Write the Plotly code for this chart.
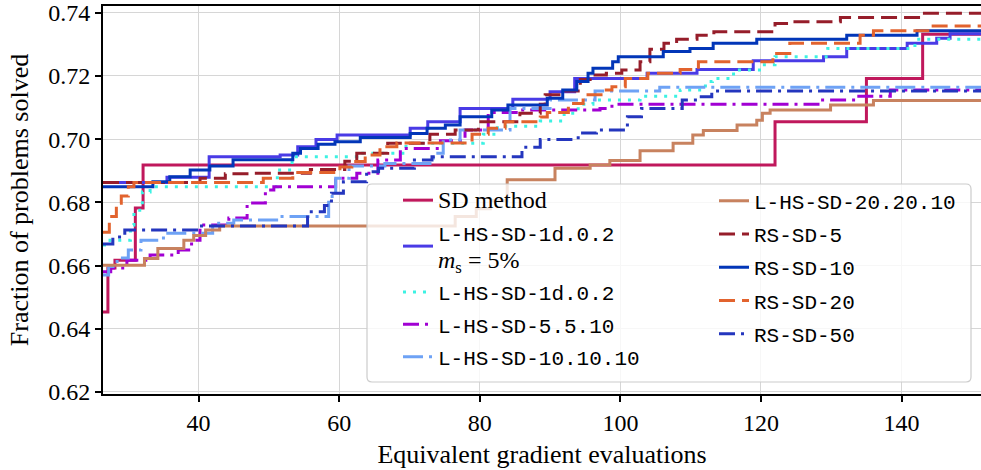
import plotly.graph_objects as go

X_END = 152.0

sd_x = [26.4, 27.1, 28.1, 31.0, 32.1, 122.0, 135.0, 143.0]
sd_y = [0.6453, 0.6592, 0.6617, 0.6782, 0.6918, 0.7055, 0.7192, 0.7332]

ms_x = [26.4, 35.5, 41.5, 51.6, 54.1, 56.7, 59.7, 70.1, 72.6, 77.2, 84.7, 90.0, 93.5,
        103.8, 110.9, 118.9, 128.9, 132.2, 140.8, 145.0, 146.9]
ms_y = [0.6863, 0.6879, 0.6944, 0.6950, 0.6976, 0.6999, 0.7013, 0.7034, 0.7055, 0.7097,
        0.7126, 0.7150, 0.7192, 0.7208, 0.7220, 0.7248, 0.7261, 0.7287, 0.7303, 0.7319, 0.7333]

cy_x = [26.4, 27.4, 30.3, 30.8, 32.0, 33.1, 51.2, 53.3, 62.5, 69.5, 80.5, 82.5, 88.6, 92.0,
        94.0, 96.1, 102.8, 108.5, 112.1, 113.1, 116.1, 120.2, 122.0, 129.5, 141.9]
cy_y = [0.6665, 0.6680, 0.6728, 0.6775, 0.6833, 0.6849, 0.6902, 0.6944, 0.6955, 0.6987,
        0.7015, 0.7041, 0.7057, 0.7082, 0.7110, 0.7124, 0.7136, 0.7155, 0.7182, 0.7192,
        0.7219, 0.7235, 0.7261, 0.7287, 0.7316]

p5_x = [26.4, 27.5, 29.8, 33.1, 37.1, 39.0, 40.2, 44.3, 46.9, 49.5, 50.7, 59.5, 62.5, 65.5,
        68.7, 74.4, 77.9, 81.2, 85.7, 97.1, 98.8, 128.4, 133.4, 138.4]
p5_y = [0.6580, 0.6592, 0.6617, 0.6633, 0.6649, 0.6680, 0.6728, 0.6750, 0.6798, 0.6839,
        0.6849, 0.6876, 0.6892, 0.6934, 0.6970, 0.6995, 0.7029, 0.7084, 0.7092, 0.7097,
        0.7110, 0.7124, 0.7136, 0.7155]

p10_x = [26.4, 27.2, 28.4, 30.0, 31.8, 35.0, 42.0, 45.0, 51.1, 58.5, 59.5, 61.4, 66.5, 73.4,
         74.8, 77.2, 84.3, 90.0, 96.4, 105.6]
p10_y = [0.6570, 0.6597, 0.6624, 0.6649, 0.6680, 0.6702, 0.6734, 0.6744, 0.6755, 0.6818,
         0.6876, 0.6915, 0.6923, 0.6955, 0.6997, 0.7029, 0.7097, 0.7124, 0.7152, 0.7164]

p20_x = [26.4, 32.3, 34.2, 37.9, 39.3, 41.0, 43.0, 76.5, 79.5, 81.5, 83.9, 90.7, 95.7, 98.5,
         102.8, 107.5, 110.3, 111.8, 116.6, 119.4, 120.2, 121.3, 129.9, 136.0]
p20_y = [0.6601, 0.6622, 0.6654, 0.6680, 0.6695, 0.6712, 0.6725, 0.6755, 0.6780, 0.6806,
         0.6871, 0.6908, 0.6918, 0.6932, 0.6963, 0.6987, 0.7013, 0.7027, 0.7045, 0.7060,
         0.7082, 0.7092, 0.7108, 0.7122]

rs5_x = [26.4, 40.2, 43.8, 47.3, 55.9, 60.8, 62.5, 66.9, 72.9, 76.5, 79.8, 85.7, 88.6, 89.3,
         92.1, 94.3, 95.7, 98.0, 100.2, 102.8, 104.2, 106.2, 108.0, 110.9, 113.3, 122.0,
         123.9, 131.3, 142.8]
rs5_y = [0.6863, 0.6876, 0.6890, 0.6892, 0.6904, 0.6930, 0.6955, 0.6987, 0.7015, 0.7029,
         0.7055, 0.7082, 0.7110, 0.7140, 0.7152, 0.7189, 0.7203, 0.7208, 0.7219, 0.7245,
         0.7284, 0.7303, 0.7316, 0.7329, 0.7340, 0.7366, 0.7371, 0.7385, 0.7398]

rs10_x = [26.4, 33.5, 35.9, 38.8, 41.6, 44.9, 53.4, 54.5, 57.0, 59.4, 63.0, 70.1, 72.5, 75.1,
          77.2, 81.7, 84.0, 89.6, 91.8, 93.8, 95.4, 96.1, 98.9, 99.7, 106.1, 109.9, 113.2,
          119.4, 132.2, 142.2]
rs10_y = [0.6849, 0.6865, 0.6881, 0.6902, 0.6915, 0.6935, 0.6955, 0.6970, 0.6984, 0.6992,
          0.7005, 0.7018, 0.7034, 0.7045, 0.7071, 0.7092, 0.7108, 0.7129, 0.7155, 0.7182,
          0.7208, 0.7224, 0.7245, 0.7261, 0.7277, 0.7287, 0.7303, 0.7316, 0.7329, 0.7343]

rs20_x = [26.4, 27.3, 28.3, 29.0, 30.0, 30.8, 49.2, 53.4, 60.1, 61.8, 63.7, 65.8, 68.2, 78.9,
          81.2, 83.6, 88.6, 89.6, 92.6, 94.7, 97.6, 98.8, 100.7, 103.9, 108.5, 111.1, 121.7,
          124.1, 134.1, 136.0, 144.1]
rs20_y = [0.6705, 0.6755, 0.6797, 0.6820, 0.6849, 0.6863, 0.6876, 0.6894, 0.6912, 0.6929,
          0.6950, 0.6976, 0.6988, 0.7015, 0.7034, 0.7055, 0.7070, 0.7084, 0.7113, 0.7140,
          0.7155, 0.7166, 0.7192, 0.7208, 0.7220, 0.7245, 0.7271, 0.7303, 0.7329, 0.7343, 0.7358]

rs50_x = [26.4, 27.8, 29.5, 40.0, 55.5, 57.9, 58.9, 60.6, 63.9, 65.6, 70.7, 73.2, 86.0, 88.6,
          94.0, 96.6, 101.0, 103.0, 108.8, 111.1, 113.0]
rs50_y = [0.6668, 0.6690, 0.6712, 0.6725, 0.6770, 0.6790, 0.6829, 0.6865, 0.6897, 0.6908,
          0.6934, 0.6944, 0.6974, 0.6999, 0.7019, 0.7029, 0.7071, 0.7097, 0.7124, 0.7134, 0.7152]

x_ticks = [40, 60, 80, 100, 120, 140]
y_ticks = [0.62, 0.64, 0.66, 0.68, 0.70, 0.72, 0.74]

SERIF = "Liberation Serif"
MONO = "Liberation Mono"

def serif_span(t):
    return f'<span style="font-family:{SERIF};font-size:24px">{t}</span>'

series = [
    ("SD method", serif_span("SD method"), sd_x, sd_y, "#C0185C", "solid", "legend"),
    ("ms", "L-HS-SD-1d.0.2<br>" + serif_span("<i>m</i><sub>s</sub> = 5%"), ms_x, ms_y, "#4A3BE6", "solid", "legend"),
    ("cy", "L-HS-SD-1d.0.2", cy_x, cy_y, "#3CF2E3", "3px,7px", "legend"),
    ("p5", "L-HS-SD-5.5.10", p5_x, p5_y, "#A100D3", "16px,6px,3px,6px", "legend"),
    ("p10", "L-HS-SD-10.10.10", p10_x, p10_y, "#6EA2F5", "20px,6px,3px,6px", "legend"),
    ("p20", "L-HS-SD-20.20.10", p20_x, p20_y, "#C8825F", "solid", "legend2"),
    ("rs5", "RS-SD-5", rs5_x, rs5_y, "#961D2A", "16px,7px", "legend2"),
    ("rs10", "RS-SD-10", rs10_x, rs10_y, "#0236B8", "solid", "legend2"),
    ("rs20", "RS-SD-20", rs20_x, rs20_y, "#E2632E", "16px,7px", "legend2"),
    ("rs50", "RS-SD-50", rs50_x, rs50_y, "#2436BE", "16px,6px,3px,6px", "legend2"),
]

fig = go.Figure()
for key, name, xs, ys, col, dash, leg in series:
    fig.add_trace(go.Scatter(
        x=list(xs) + [X_END], y=list(ys) + [ys[-1]],
        mode="lines", line=dict(shape="hv", color=col, width=3, dash=dash),
        name=name, legend=leg, legendgroup=key,
    ))

L, R, T, B = 103, 0, 6, 76
W, H = 981, 470
PW, PH = W - L - R, H - T - B

def px(xp):
    return (xp - L) / PW

def py(yp):
    return (H - B - yp) / PH

x0, x1, y0, y1 = px(367), px(971), py(382), py(184)
rx, ry = 5 / PW, 5 / PH
path = (f"M{x0+rx},{y0} L{x1-rx},{y0} Q{x1},{y0} {x1},{y0+ry} L{x1},{y1-ry} "
        f"Q{x1},{y1} {x1-rx},{y1} L{x0+rx},{y1} Q{x0},{y1} {x0},{y1-ry} "
        f"L{x0},{y0+ry} Q{x0},{y0} {x0+rx},{y0} Z")

fig.update_layout(
    width=W, height=H,
    margin=dict(l=L, r=R, t=T, b=B),
    paper_bgcolor="white", plot_bgcolor="white",
    font=dict(family=SERIF, size=24, color="black"),
    shapes=[dict(type="path", path=path, xref="paper", yref="paper",
                 fillcolor="rgba(255,255,255,0.8)", line=dict(color="#cccccc", width=1.2),
                 layer="above")],
    legend=dict(x=px(398), y=py(180), xanchor="left", yanchor="top",
                bgcolor="rgba(0,0,0,0)", borderwidth=0, tracegroupgap=2,
                font=dict(family=MONO, size=21, color="black")),
    legend2=dict(x=px(714), y=py(180.5), xanchor="left", yanchor="top",
                 bgcolor="rgba(0,0,0,0)", borderwidth=0, tracegroupgap=3,
                 font=dict(family=MONO, size=21, color="black")),
    xaxis=dict(range=[26.4, 151.3], tickvals=x_ticks, ticktext=[str(v) for v in x_ticks],
               showgrid=True, gridcolor="#d6d6d6", gridwidth=1.3,
               showline=True, linecolor="black", linewidth=2, mirror=True,
               ticks="outside", ticklen=6, tickwidth=1.5, tickcolor="black",
               tickfont=dict(family=SERIF, size=24),
               title=dict(text="Equivalent gradient evaluations", standoff=10,
                          font=dict(family=SERIF, size=26)),
               zeroline=False, automargin=False),
    yaxis=dict(range=[0.61934, 0.74212], tickvals=y_ticks, ticktext=[f"{v:.2f}" for v in y_ticks],
               showgrid=True, gridcolor="#d6d6d6", gridwidth=1.3,
               showline=True, linecolor="black", linewidth=2, mirror=False,
               ticks="outside", ticklen=6, tickwidth=1.5, tickcolor="black",
               tickfont=dict(family=SERIF, size=24),
               title=dict(text="Fraction of problems solved", standoff=12,
                          font=dict(family=SERIF, size=26)),
               zeroline=False, automargin=False),
)

fig.write_html("out.html")
